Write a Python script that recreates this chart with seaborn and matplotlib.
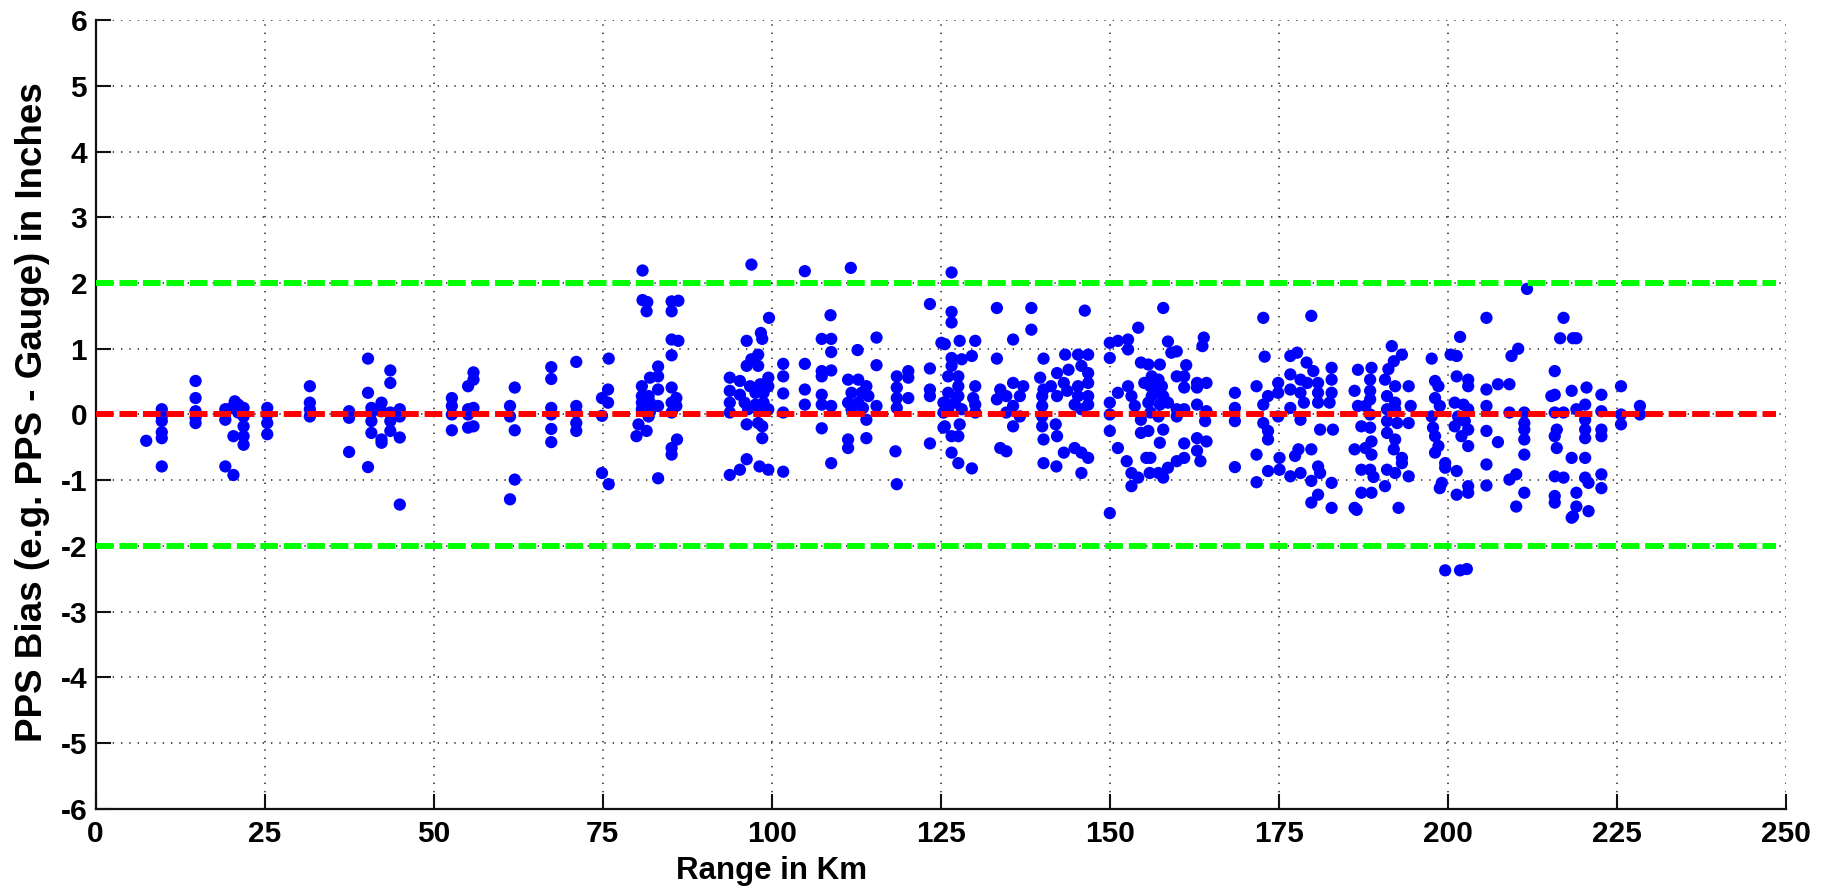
import matplotlib
matplotlib.use("Agg")
import matplotlib.pyplot as plt
import numpy as np
import pandas as pd
import seaborn as sns

# ---------------- data (range km, bias inches) ----------------
km_a = [7.5, 9.8, 9.8, 9.8, 9.8, 9.8, 9.8,
        14.8, 14.8, 14.8, 14.8, 14.8,
        19.2, 20.4, 19.2, 19.2, 20.6, 21.1, 21.9, 21.9, 21.9, 21.9, 20.4, 21.9, 20.1, 21.1,
        25.4, 25.4, 25.4, 25.4,
        31.7, 31.7, 31.7, 31.7]
bias_a = [-0.40, 0.08, -0.03, -0.10, -0.27, -0.36, -0.79,
          0.51, 0.25, 0.05, -0.05, -0.13,
          -0.79, -0.92, 0.08, -0.08, 0.20, 0.15, 0.10, -0.03, -0.18, -0.33, -0.33, -0.46, 0.10, 0.03,
          0.10, 0.00, -0.13, -0.30,
          0.43, 0.18, 0.08, -0.03]

km_b = [37.5, 37.5, 37.5,
        40.3, 40.3, 40.3,
        40.8, 42.3, 40.8, 40.8, 42.3, 42.3, 43.6, 43.6, 43.6, 45.0, 45.0, 45.0, 40.8, 42.3,
        43.6, 43.6, 45.0,
        52.7, 52.7, 52.7, 52.7,
        55.1, 55.9, 55.9, 55.1, 55.9, 55.1, 55.9, 55.1,
        61.3, 61.3, 62.0, 62.0, 62.0, 61.3]
bias_b = [0.05, -0.05, -0.57,
          0.85, 0.33, -0.80,
          0.10, 0.18, -0.10, -0.28, -0.38, -0.43, 0.03, -0.10, -0.25, 0.08, -0.03, -0.35, 0.03, 0.05,
          0.67, 0.48, -1.37,
          0.25, 0.13, 0.00, -0.24,
          0.43, 0.64, 0.53, 0.08, 0.10, -0.20, -0.18, 0.00,
          0.13, -0.03, 0.41, -0.24, -0.99, -1.29]

km_c = [67.4, 67.4, 67.4, 67.4, 67.4, 67.4,
        71.1, 71.1, 71.1, 71.1, 71.1,
        74.9, 75.8, 75.9, 75.8, 74.9, 74.9, 75.9,
        80.9, 80.9, 81.6, 81.5,
        83.2, 82.0, 83.2, 80.8, 83.2, 80.8, 81.8, 80.8, 82.0, 83.2, 80.8, 82.0, 81.8, 80.3, 80.0, 81.5, 83.2,
        85.2, 86.2, 85.2, 85.2, 86.2, 85.2,
        85.2, 85.9, 85.2, 85.9, 85.2, 86.0, 85.2, 85.2]
bias_c = [0.72, 0.54, 0.10, 0.00, -0.22, -0.42,
          0.80, 0.13, 0.03, -0.13, -0.25,
          0.25, 0.38, 0.85, 0.18, -0.02, -0.89, -1.06,
          2.19, 1.74, 1.71, 1.57,
          0.73, 0.56, 0.58, 0.43, 0.38, 0.28, 0.28, 0.18, 0.18, 0.13, 0.08, 0.05, -0.03, -0.15, -0.33, -0.25, -0.97,
          1.72, 1.73, 1.57, 1.14, 1.12, 0.90,
          0.41, 0.25, 0.18, 0.13, 0.03, -0.38, -0.51, -0.61]

km_d = [93.8, 93.8, 93.8, 93.8, 93.8,
        97.0, 104.9, 111.7, 123.4,
        99.6, 98.4, 98.6, 96.3,
        108.7, 107.4, 108.8, 108.8,
        115.5, 112.7, 115.5, 125.1,
        98.0, 97.0, 96.3, 98.0, 95.3, 96.8, 99.5, 98.3, 99.5, 95.3, 97.6, 98.8, 96.0, 97.6, 98.8,
        96.5, 98.0, 99.5, 96.3, 98.0, 98.6, 98.6, 96.3, 95.3, 98.2, 99.5, 101.7,
        101.7, 101.7, 101.7, 101.7,
        104.9, 104.9, 104.9,
        107.4, 108.8, 107.4, 107.4, 107.4, 108.8, 107.4, 108.8,
        111.3, 112.8, 114.0, 111.8, 113.3, 114.3, 111.3, 112.8, 111.8, 113.5, 115.5, 114.0, 111.3, 111.3, 114.0,
        118.5, 118.5, 118.5, 118.5, 120.2, 120.2, 120.2, 118.3, 118.5,
        123.4, 123.4, 123.4, 123.4]
bias_d = [0.56, 0.36, 0.18, 0.03, -0.92,
          2.28, 2.18, 2.23, 1.68,
          1.47, 1.24, 1.15, 1.12,
          1.51, 1.15, 1.15, 0.95,
          1.17, 0.98, 0.75, 1.09,
          0.91, 0.84, 0.74, 0.74, 0.51, 0.43, 0.56, 0.46, 0.43, 0.30, 0.33, 0.33, 0.18, 0.15, 0.18,
          0.08, 0.08, 0.08, -0.15, -0.13, -0.18, -0.36, -0.68, -0.84, -0.79, -0.84, -0.87,
          0.77, 0.58, 0.32, 0.03,
          0.77, 0.38, 0.15,
          0.66, 0.67, 0.58, 0.30, 0.15, 0.13, -0.21, -0.74,
          0.53, 0.53, 0.43, 0.33, 0.33, 0.28, 0.18, 0.18, 0.08, 0.10, 0.13, -0.08, -0.38, -0.51, -0.36,
          0.58, 0.41, 0.25, 0.10, 0.66, 0.56, 0.25, -0.56, -1.06,
          0.70, 0.38, 0.28, -0.44]

km_e = [125.4, 125.4, 125.4,
        126.6, 126.6, 126.6, 133.3, 138.4, 138.4, 146.3,
        135.7, 130.1, 125.6, 127.8,
        150.0, 151.2, 152.7, 154.2, 152.7,
        126.6, 128.1, 129.6, 126.6, 127.6, 126.1, 127.6, 130.1, 126.1, 127.6, 129.8, 125.6, 127.1,
        130.1, 126.1, 128.1, 130.1, 125.6, 127.8, 126.6, 127.6, 126.6, 127.6, 129.6,
        133.3, 133.8, 133.3, 135.7, 134.7, 134.7, 135.7, 135.7, 136.7, 136.7, 137.2, 133.8, 134.7,
        140.2, 139.7, 140.2, 140.0, 140.0, 140.0, 140.0, 140.2, 140.2, 142.1,
        142.2, 141.3, 142.2, 142.0, 142.2,
        143.4, 143.9, 143.2, 143.7, 143.2,
        145.3, 146.8, 145.8, 146.8, 145.3, 146.8, 145.3, 146.8, 144.8, 146.8, 145.8, 144.8, 145.8, 146.8, 145.8,
        150.0, 150.0, 150.0, 150.0, 151.2, 150.0,
        151.2, 152.7, 153.2, 153.7, 154.6, 155.1, 154.6, 154.6, 152.5, 153.2, 153.2, 154.2, 155.4, 155.9]
bias_e = [0.18, 0.03, -0.20,
          2.16, 1.56, 1.40, 1.62, 1.62, 1.29, 1.58,
          1.14, 1.12, 1.07, 1.12,
          1.09, 1.12, 1.14, 1.32, 0.99,
          0.86, 0.84, 0.89, 0.74, 0.58, 0.58, 0.43, 0.43, 0.33, 0.28, 0.25, 0.18, 0.18,
          0.15, 0.08, 0.08, 0.03, -0.18, -0.15, -0.33, -0.33, -0.58, -0.74, -0.82,
          0.85, 0.38, 0.23, 0.48, 0.28, 0.03, 0.13, -0.18, 0.28, -0.03, 0.43, -0.51, -0.56,
          0.85, 0.56, 0.38, 0.28, 0.13, -0.03, -0.18, -0.38, -0.74, -0.79,
          0.63, 0.43, 0.28, -0.15, -0.33,
          0.91, 0.68, 0.48, 0.36, -0.58,
          0.91, 0.91, 0.74, 0.63, 0.43, 0.48, 0.28, 0.28, 0.15, 0.15, 0.08, -0.51, -0.58, -0.66, -0.89,
          0.86, 0.18, 0.00, -0.25, -0.51, -1.50,
          0.33, 0.43, 0.28, 0.13, 0.79, 0.48, -0.08, -0.28, -0.71, -0.89, -1.09, -0.96, -0.66, -0.89]

km_f = [157.9, 172.7, 179.8,
        158.6, 163.9, 163.7, 159.1, 159.9, 161.3,
        155.7, 157.4, 156.2, 157.2, 156.0, 157.7, 157.2, 156.2, 157.9, 155.7, 157.4, 158.6,
        156.0, 157.2, 155.7, 157.9, 157.4, 156.0, 157.2, 157.9, 158.6,
        159.9, 161.0, 161.0, 159.9, 161.0, 159.9, 161.0, 159.9, 161.0,
        162.9, 164.3, 162.9, 162.9, 164.3, 164.1, 162.9, 164.3, 162.9, 163.4,
        168.5, 168.5, 168.5, 168.5,
        171.7, 172.9, 173.4, 172.7, 172.7, 173.4, 173.4, 171.7, 173.4, 171.7,
        174.9, 174.9, 174.9, 175.1, 175.1,
        176.7, 177.7, 176.7, 176.7, 176.7, 177.4, 177.9, 176.7, 178.2,
        179.1, 180.1, 178.2, 179.2, 180.8, 182.8, 182.8, 178.2, 180.8, 182.8, 178.7, 180.8, 182.5,
        178.2, 181.1, 183.0, 179.8,
        180.8, 181.1, 179.8, 180.8, 179.8, 182.8, 182.8, 186.2,
        186.7, 186.2, 186.7, 187.2, 186.2, 187.2, 187.2]
bias_f = [1.62, 1.47, 1.50,
          1.11, 1.17, 1.04, 0.94, 0.96, 0.75,
          0.76, 0.76, 0.58, 0.53, 0.43, 0.43, 0.33, 0.28, 0.28, 0.18, 0.15, 0.18,
          0.03, -0.03, -0.25, -0.23, -0.43, -0.66, -0.89, -0.96, -0.81,
          0.58, 0.58, 0.41, 0.08, 0.08, -0.03, -0.44, -0.71, -0.66,
          0.48, 0.48, 0.41, 0.15, 0.05, -0.10, -0.36, -0.41, -0.55, -0.71,
          0.33, 0.10, -0.10, -0.80,
          0.43, 0.88, 0.28, 0.15, -0.13, -0.25, -0.38, -0.61, -0.86, -1.03,
          0.48, 0.33, -0.03, -0.66, -0.84,
          0.89, 0.94, 0.61, 0.38, 0.10, -0.63, -0.53, -0.94, -0.89,
          0.79, 0.66, 0.53, 0.48, 0.48, 0.71, 0.53, 0.33, 0.33, 0.33, 0.18, 0.18, 0.18,
          -0.08, -0.23, -0.23, -0.53,
          -0.79, -0.89, -1.01, -1.22, -1.34, -1.04, -1.42, -1.42,
          0.68, 0.36, 0.13, -0.18, -0.53, -0.84, -1.19]

km_g = [211.7, 205.7, 217.1, 216.6, 218.5, 201.8, 209.4, 210.4,
        188.7, 188.5, 188.5, 188.5, 187.8, 188.5, 188.5, 188.7, 187.8, 188.7, 188.5, 189.0, 188.7, 186.5,
        191.7, 193.2, 192.0, 191.2, 190.7, 192.2, 191.0, 192.2, 191.0, 192.2, 191.0, 192.5, 194.2,
        191.0, 192.2, 192.0, 193.2, 193.2, 191.0, 192.2, 190.7, 192.7, 194.2, 194.5, 194.2,
        197.6, 198.1, 198.6, 198.1, 198.8, 197.6, 197.8, 198.1, 198.6, 198.1, 199.6, 199.6, 199.1, 198.8, 199.6,
        200.4, 201.3, 201.3, 203.0, 203.0, 201.0, 202.3, 203.0, 201.5, 202.5, 201.0, 203.0, 202.0, 203.0,
        201.3, 203.0, 201.3, 203.0, 201.8, 202.8,
        205.7, 205.7, 205.7, 205.7, 205.7, 207.4, 207.4, 209.1,
        209.1, 209.1, 210.1, 210.1, 211.3, 211.3, 211.3, 211.3, 211.3, 211.3,
        215.8, 215.8, 215.3, 215.8, 216.1, 215.8, 216.1, 215.8, 217.1, 215.8, 215.8, 218.3, 218.3, 218.5, 217.1]
bias_g = [1.91, 1.47, 1.47, 1.16, 1.16, 1.18, 0.89, 1.00,
          0.71, 0.53, 0.36, 0.23, 0.13, 0.00, -0.20, -0.41, -0.51, -0.61, -0.84, -0.95, -1.19, -1.45,
          1.04, 0.91, 0.81, 0.69, 0.53, 0.43, 0.28, 0.18, 0.08, 0.08, -0.10, -0.13, -0.13,
          -0.28, -0.38, -0.53, -0.66, -0.74, -0.84, -0.89, -1.09, -1.42, 0.43, 0.13, -0.94,
          0.85, 0.51, 0.43, 0.25, 0.13, -0.03, -0.20, -0.33, -0.48, -0.58, -0.74, -0.81, -1.04, -1.12, -2.37,
          0.91, 0.89, 0.58, 0.53, 0.43, 0.18, 0.15, 0.08, -0.03, -0.10, -0.18, -0.23, -0.33, -0.48,
          -0.86, -1.09, -1.22, -1.19, -2.37, -2.35,
          0.38, 0.13, -0.25, -0.76, -1.08, 0.46, -0.42, 0.46,
          0.03, -0.99, -0.91, -1.40, -1.19, 0.03, -0.13, -0.23, -0.38, -0.61,
          0.66, 0.30, 0.28, 0.03, -0.23, -0.33, -0.51, -0.94, -0.96, -1.24, -1.34, 0.36, -0.66, -1.55, 0.03]

km_h = [219.0, 220.5, 220.3, 219.0, 222.7, 222.7, 220.3, 220.3, 220.3, 222.7, 222.7,
        220.3, 220.3, 220.8, 222.7, 222.7, 219.0, 219.0, 220.8, 218.3,
        225.6, 225.6, 225.6, 228.4, 228.4]
bias_h = [1.16, 0.41, 0.15, 0.08, 0.30, 0.05, -0.08, -0.23, -0.36, -0.23, -0.33,
          -0.66, -0.96, -1.04, -0.91, -1.12, -1.19, -1.40, -1.47, -1.57,
          0.43, 0.00, -0.15, 0.13, 0.00]

ref_levels = [2.0, 0.0, -2.0]          # threshold lines
ref_colors = ["#00ff00", "#ff0000", "#00ff00"]
ref_span = [0.0, 248.5]

x_ticks = list(range(0, 251, 25))
y_ticks = list(range(-6, 7, 1))

# ---------------- build table ----------------
df = pd.DataFrame({
    "Range in Km": km_a + km_b + km_c + km_d + km_e + km_f + km_g + km_h,
    "Bias": bias_a + bias_b + bias_c + bias_d + bias_e + bias_f + bias_g + bias_h,
})

# ---------------- style ----------------
sns.set_theme(style="white")
plt.rcParams["font.family"] = ["Liberation Sans", "DejaVu Sans"]
plt.rcParams["lines.scale_dashes"] = False
plt.rcParams["axes.unicode_minus"] = False
plt.rcParams["text.color"] = "black"
plt.rcParams["axes.labelcolor"] = "black"
plt.rcParams["xtick.color"] = "black"
plt.rcParams["ytick.color"] = "black"

fig = plt.figure(figsize=(18.25, 8.89), dpi=100)
ax = fig.add_axes([0.05233, 0.09, 0.9263, 0.8875])

sns.scatterplot(data=df, x="Range in Km", y="Bias", color="#0000ff", s=78,
                linewidth=0, edgecolor="none", ax=ax, zorder=3, legend=False)

for lvl, col in zip(ref_levels, ref_colors):
    sns.lineplot(x=ref_span, y=[lvl, lvl], color=col, linewidth=4.3, ax=ax,
                 zorder=4, legend=False)
for line in ax.lines:
    line.set_linestyle((0, (12.7, 4.2)))
    line.set_dash_capstyle("butt")

ax.set_xlim(0, 250)
ax.set_ylim(-6, 6)
ax.set_xticks(x_ticks)
ax.set_yticks(y_ticks)
ax.set_xticklabels([str(t) for t in x_ticks])
ax.set_yticklabels([str(t) for t in y_ticks])
ax.grid(True, color="#222222", linestyle=(0, (1.0, 5.0)), linewidth=1.1, zorder=0)
ax.set_axisbelow(True)

for side in ("top", "right"):
    ax.spines[side].set_visible(False)
for side in ("left", "bottom"):
    ax.spines[side].set_color("#111111")
    ax.spines[side].set_linewidth(1.6)

ax.tick_params(axis="both", direction="in", length=11, width=1.5, color="#111111",
               labelcolor="black", labelsize=21.5, left=True, bottom=True)
ax.tick_params(axis="y", pad=6)
ax.tick_params(axis="x", pad=8)
for lab in ax.get_xticklabels() + ax.get_yticklabels():
    lab.set_fontweight("bold")

ax.set_xlabel("Range in Km", fontsize=22.5, fontweight="bold", color="black")
ax.set_ylabel("PPS Bias (e.g. PPS - Gauge) in Inches", fontsize=26.5, fontweight="bold",
              color="black")
ax.xaxis.label.set_va("center")
ax.yaxis.label.set_va("center")
ax.xaxis.set_label_coords(0.400, -0.079)
ax.yaxis.set_label_coords(-0.037, 0.503)

fig.savefig("out.png", dpi=100, facecolor="white")
